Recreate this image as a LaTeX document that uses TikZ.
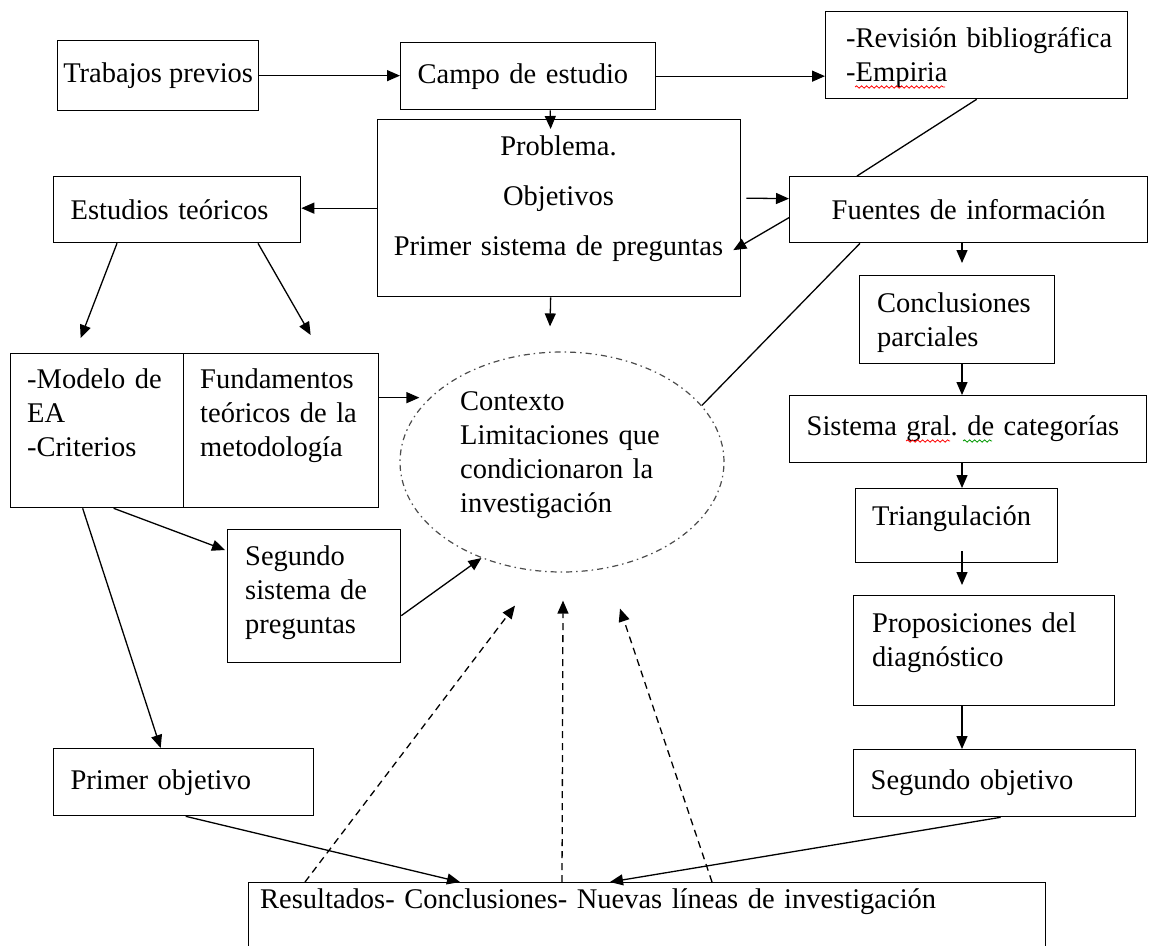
\documentclass[tikz,border=0pt]{standalone}
\usepackage{fontspec}
\setmainfont{Liberation Serif}
\usetikzlibrary{arrows.meta,positioning,shapes.geometric,calc,decorations.pathmorphing}

\begin{document}
\begin{tikzpicture}[
    x=1pt, y=-1pt,
    font=\fontsize{28.5}{34}\selectfont,
    box/.style={draw, line width=1.3pt, anchor=north west, inner xsep=17pt, inner ysep=0pt, align=left},
    frame/.style={draw, line width=1.3pt, anchor=north west, inner sep=0pt},
    txt/.style={anchor=base west, inner sep=0pt, align=left},
    arr/.style={-{Triangle[length=13pt,width=11pt]}, line width=1.3pt},
    ln/.style={line width=1.3pt},
    dsh/.style={arr, dash pattern=on 7pt off 5pt},
    wave/.style={decorate, decoration={snake, amplitude=1.2pt, segment length=5pt}, line width=0.8pt}
  ]
  \path[use as bounding box, fill=white] (0,0) rectangle (1150,945);

  % top row
  \node[box, minimum width=201, minimum height=70, inner xsep=5pt] (trab) at (57,40) {Trabajos previos};
  \node[box, text width=221, minimum height=67] (campo) at (400,42) {Campo de estudio};
  \node[frame, minimum width=302, minimum height=87] (rev) at (825,11) {};
  \node[txt, text width=290] (revt) at (846,47) {-Revisión bibliográfica\\-Empiria};

  % problem block and its neighbours
  \node[frame, minimum width=363, minimum height=177] (prob) at (377,119) {};
  \node[txt, text width=340, align=center, anchor=base] (probt) at (558.5,155)
    {Problema.\\[16pt]Objetivos\\[16pt]Primer sistema de preguntas};
  \node[box, text width=213, minimum height=66] (est) at (53,176) {Estudios teóricos};
  \node[box, text width=324, minimum height=66, align=center] (fuen) at (789,176) {Fuentes de información};

  % left column
  \node[frame, minimum width=173, minimum height=154] (mod) at (10,353) {};
  \node[txt, text width=150] (modt) at (27,388) {-Modelo de\\EA\\-Criterios};
  \node[frame, minimum width=195, minimum height=154] (fund) at (183,353) {};
  \node[txt, text width=170] (fundt) at (200,388) {Fundamentos\\teóricos de la\\metodología};
  \node[frame, minimum width=173, minimum height=133] (seg) at (227,529) {};
  \node[txt, text width=150] (segt) at (245,565) {Segundo\\sistema de\\preguntas};
  \node[box, text width=226, minimum height=67] (pobj) at (53,748) {Primer objetivo};

  % context
  \node[ellipse, draw=black!70, line width=1.2pt, dash pattern=on 6pt off 4pt on 1.5pt off 4pt,
        minimum width=324, minimum height=220, inner sep=0pt] (ctx) at (562,462) {};
  \node[txt, text width=220] (ctxt) at (460,410) {Contexto\\Limitaciones que\\condicionaron la\\investigación};

  % right column
  \node[frame, minimum width=195, minimum height=88] (concl) at (859,275) {};
  \node[txt, text width=170] (conclt) at (877,312) {Conclusiones\\parciales};
  \node[box, text width=323, minimum height=67] (sist) at (789,395) {Sistema gral.\ de categorías};
  \node[frame, minimum width=202, minimum height=74] (tri) at (855,488) {};
  \node[txt, text width=180] (trit) at (872,525) {Triangulación};
  \node[frame, minimum width=261, minimum height=110] (prop) at (853,595) {};
  \node[txt, text width=240] (propt) at (872,632) {Proposiciones del\\diagnóstico};
  \node[box, text width=248, minimum height=67] (sobj) at (853,749) {Segundo objetivo};

  % bottom
  \node[frame, minimum width=797, minimum height=90] (res) at (248,882) {};
  \node[txt, text width=780] (rest) at (260,908) {Resultados- Conclusiones- Nuevas líneas de investigación};

  \coordinate (col) at (962,0);

  % connectors
  \draw[arr] (trab.east) -- (trab.east -| campo.west);
  \draw[arr] (campo.east) -- (campo.east -| rev.west);
  \draw[arr] ([xshift=22pt]campo.south) -- ([xshift=-8.5pt,yshift=-10pt]prob.north);
  \draw[arr] (prob.west) -- (prob.west -| est.east);
  \draw[arr] ([xshift=5pt,yshift=10pt]prob.east) -- ([yshift=11pt]fuen.west);
  \draw[ln] (rev.south) -- ([xshift=68pt]fuen.north west);
  \draw[arr] ([yshift=-8pt]fuen.west) -- ([xshift=-8pt,yshift=-42pt]prob.east);
  \draw[ln] ([xshift=71pt]fuen.south west) -- (ctx.22);

  \draw[arr] (col |- fuen.south) -- ([yshift=12pt]col |- concl.north);
  \draw[arr] (col |- concl.south) -- (col |- sist.north);
  \draw[arr] (col |- sist.south) -- (col |- tri.north);
  \draw[arr] ([yshift=12pt]col |- tri.south) -- ([yshift=10pt]col |- prop.north);
  \draw[arr] (col |- prop.south) -- (col |- sobj.north);

  \draw[arr] ([xshift=64pt]est.south west) -- ([xshift=-16.5pt,yshift=15pt]mod.north);
  \draw[arr] ([xshift=205pt]est.south west) -- ([xshift=29.5pt,yshift=18pt]fund.north);
  \draw[arr] ([xshift=-8.5pt]prob.south) -- ([xshift=-12pt,yshift=25pt]ctx.north);
  \draw[arr] ([yshift=33pt]fund.east) -- ([xshift=20pt,yshift=33pt]ctx.west |- fund.east);
  \draw[arr] ([xshift=16.5pt]mod.south) -- ([xshift=-2pt,yshift=-21pt]seg.north west);
  \draw[arr] ([xshift=-14.5pt]mod.south) -- ([xshift=-23pt]pobj.north);
  \draw[arr] ([yshift=-19.5pt]seg.east) -- (ctx.230);

  \draw[arr] ([xshift=2pt]pobj.south) -- ([xshift=212pt]res.north west);
  \draw[arr] ([xshift=6pt]sobj.south) -- ([xshift=362pt]res.north west);
  \draw[dsh] ([xshift=57pt]res.north west) -- ([xshift=-47pt,yshift=-33pt]ctx.south);
  \draw[dsh] ([xshift=314pt]res.north west) -- ([xshift=1pt,yshift=-28pt]ctx.south);
  \draw[dsh] ([xshift=464pt]res.north west) -- ([xshift=58pt,yshift=-36pt]ctx.south);

  % spelling marks
  \draw[wave, red] (855,87) -- (945,87);
  \draw[wave, red] (906,441) -- (950,441);
  \draw[wave, green!60!black] (963,441) -- (992,441);
\end{tikzpicture}
\end{document}
